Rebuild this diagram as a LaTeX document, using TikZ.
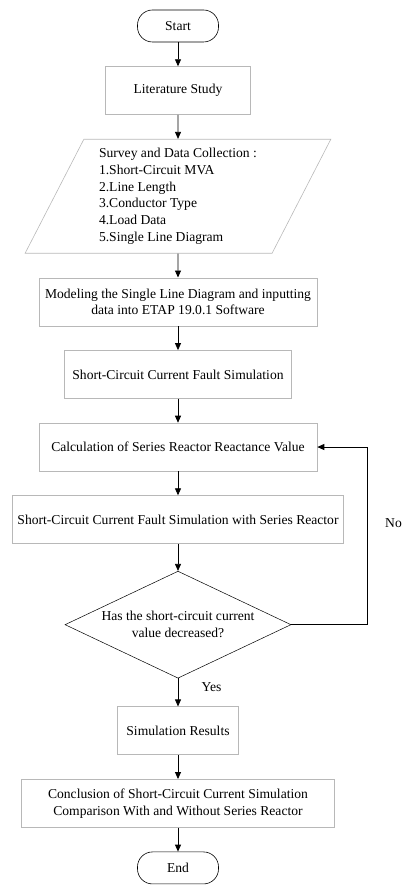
\documentclass[tikz,border=0pt]{standalone}
\usepackage{fontspec}
\setmainfont{Liberation Serif}
\usetikzlibrary{positioning,shapes.geometric,arrows.meta}

\begin{document}
\begin{tikzpicture}[x=1pt,y=1pt,
        node distance=24pt,
        font=\fontsize{13.6}{16.7}\selectfont,
        terminal/.style={draw,rounded corners=15pt,minimum width=81pt,minimum height=32pt,line width=0.6pt},
        stepbox/.style={draw=black!28,minimum height=48pt,inner sep=0pt,line width=0.6pt},
        databox/.style={draw=black!28,trapezium,trapezium stretches=true,trapezium left angle=63.4,
                trapezium right angle=116.6,minimum width=306pt,minimum height=114pt,align=left,line width=0.6pt},
        decision/.style={draw,diamond,aspect=2.1,inner sep=0pt,minimum width=226pt,minimum height=107pt,
                align=center,line width=0.5pt},
        flow/.style={-{Triangle[length=7pt,width=6pt]},line width=0.8pt}]

    \useasboundingbox (0,0) rectangle (403,-885);

    \node[terminal] (start) at (178,-26) {Start};
    \node[stepbox,minimum width=145pt,below=of start] (lit) {Literature Study};
    \node[databox,below=of lit] (survey) {Survey and Data Collection :\\
        1.Short-Circuit MVA\\
        2.Line Length\\
        3.Conductor Type\\
        4.Load Data\\
        5.Single Line Diagram};
    \node[stepbox,minimum width=278pt,align=center,below=of survey] (model)
        {Modeling the Single Line Diagram and inputting\\data into ETAP 19.0.1 Software};
    \node[stepbox,minimum width=227pt,below=of model] (sim) {Short-Circuit Current Fault Simulation};
    \node[stepbox,minimum width=278pt,below=of sim] (calc) {Calculation of Series Reactor Reactance Value};
    \node[stepbox,minimum width=331pt,below=of calc] (simr) {Short-Circuit Current Fault Simulation with Series Reactor};
    \node[decision,below=27pt of simr] (check) {Has the short-circuit current\\value decreased?};
    \node[stepbox,minimum width=121pt,below=28pt of check] (res) {Simulation Results};
    \node[stepbox,minimum width=313pt,align=center,below=of res] (concl)
        {Conclusion of Short-Circuit Current Simulation\\Comparison With and Without Series Reactor};
    \node[terminal,below=of concl] (end) {End};

    % main flow
    \draw[flow] (start) -- (lit);
    \draw[flow] (lit) -- (survey);
    \draw[flow] (survey) -- (model);
    \draw[flow] (model) -- (sim);
    \draw[flow] (sim) -- (calc);
    \draw[flow] (calc) -- (simr);
    \draw[flow] (simr) -- (check);
    \draw[flow] (check) -- node[right=20pt,pos=0.3] (yes) {Yes} (res);
    \draw[flow] (res) -- (concl);
    \draw[flow] (concl) -- (end);

    % loop back
    \coordinate (loop) at (367,0);
    \draw[flow] (check.east) -- (check.east -| loop) -- (calc.east -| loop) -- (calc.east);
    \node[anchor=east,inner sep=1pt] (no) at (403,-523) {No};
\end{tikzpicture}
\end{document}
